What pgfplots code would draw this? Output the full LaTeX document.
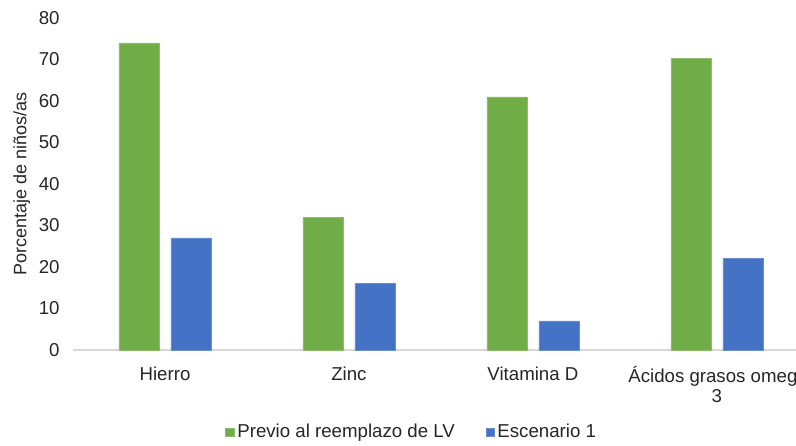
\documentclass[border=0pt]{standalone}
\usepackage{pgfplots}
\pgfplotsset{compat=1.18}
\usepackage{fontspec}
\setmainfont{Liberation Sans}
\definecolor{cgreen}{HTML}{70AD47}
\definecolor{cblue}{HTML}{4472C4}
\definecolor{ctext}{HTML}{262626}
\definecolor{caxis}{HTML}{D9D9D9}
\begin{document}
\begin{tikzpicture}
\begin{axis}[
  scale only axis,
  width=542.25pt, height=249pt,
  ybar=9pt, bar width=30pt,
  xmin=-0.5, xmax=3.43,
  ymin=0, ymax=80,
  ytick={0,10,...,80},
  xtick={0,1,2,3},
  xticklabels={Hierro,Zinc,Vitamina D,{Ácidos grasos omeg\hbox to 6pt{}\\3}},
  xticklabel style={align=center, yshift=-9pt, font=\fontsize{14}{15}\selectfont, text=ctext},
  yticklabel style={xshift=-6.5pt, font=\fontsize{14}{15}\selectfont, text=ctext},
  /pgf/number format/assume math mode=true,
  major tick length=0pt,
  axis x line*=bottom,
  axis y line*=left,
  y axis line style={draw=none},
  x axis line style={draw=caxis, line width=1pt, -},
  ylabel={Porcentaje de niños/as},
  ylabel style={at={(axis description cs:-0.071,0.5)}, anchor=center, font=\fontsize{13.5}{15}\selectfont, text=ctext},
  legend style={at={(axis description cs:0.469,-0.247)}, anchor=center, draw=none, legend columns=2,
    font=\fontsize{14}{16}\selectfont, text=ctext,
    /tikz/every even column/.append style={column sep=21pt}},
  legend image code/.code={\fill[#1] (0pt,-3.5pt) rectangle (6.5pt,3pt);},
  clip=false,
]
\addplot[fill=cgreen, draw=cgreen!80!white] coordinates {(0,74) (1,32) (2,61) (3,70.3)};
\addplot[fill=cblue, draw=cblue!80!white] coordinates {(0,27) (1,16) (2,7) (3,22)};
\legend{Previo al reemplazo de LV, Escenario 1}
\end{axis}
\pgfresetboundingbox
\path (-54.75pt,-72pt) rectangle (542.25pt,262.5pt);
\end{tikzpicture}
\end{document}
